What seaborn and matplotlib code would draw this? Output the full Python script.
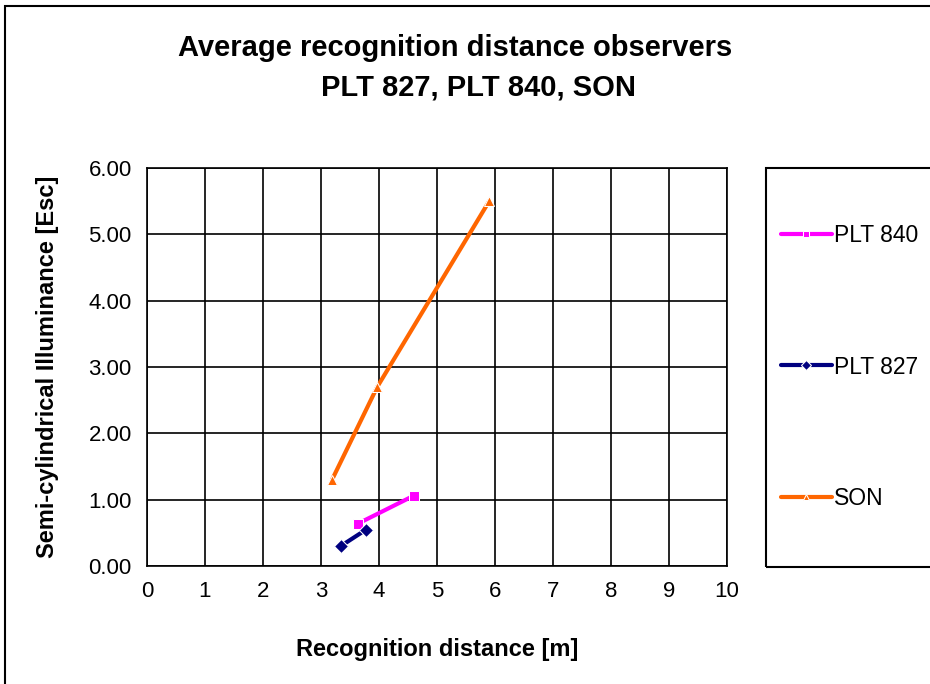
import matplotlib
matplotlib.use("Agg")
import matplotlib.pyplot as plt
import seaborn as sns
import pandas as pd
from matplotlib.patches import Rectangle

# Data
series_names = ["PLT 840", "PLT 827", "SON"]
plt840_x = [3.64, 4.60]
plt840_y = [0.64, 1.06]
plt827_x = [3.34, 3.78]
plt827_y = [0.30, 0.55]
son_x = [3.19, 3.97, 5.90]
son_y = [1.30, 2.70, 5.50]
x_ticks = list(range(0, 11))
y_ticks = [0, 1, 2, 3, 4, 5, 6]

df = pd.concat([
    pd.DataFrame({"x": plt840_x, "y": plt840_y, "series": "PLT 840"}),
    pd.DataFrame({"x": plt827_x, "y": plt827_y, "series": "PLT 827"}),
    pd.DataFrame({"x": son_x, "y": son_y, "series": "SON"}),
], ignore_index=True)

sns.set_style("white")
plt.rcParams["font.family"] = ["Liberation Sans", "DejaVu Sans"]
plt.rcParams["text.color"] = "black"
plt.rcParams["axes.labelcolor"] = "black"
plt.rcParams["xtick.color"] = "black"
plt.rcParams["ytick.color"] = "black"

fig = plt.figure(figsize=(9.3, 6.84), dpi=100)
ax = fig.add_axes([147/930, 1-566/684, (727-147)/930, (566-168)/684])

palette = {"PLT 840": "#FF00FF", "PLT 827": "#000080", "SON": "#FF6600"}
markers = {"PLT 840": "s", "PLT 827": "D", "SON": "^"}
sns.lineplot(data=df, x="x", y="y", hue="series", style="series",
             hue_order=series_names, style_order=series_names,
             palette=palette, markers=markers, dashes=False,
             linewidth=3, markersize=7, sort=False, estimator=None,
             ax=ax, legend=True)

ax.set_xlim(0, 10)
ax.set_ylim(0, 6)
ax.set_xticks(x_ticks)
ax.set_xticklabels([str(t) for t in x_ticks])
ax.set_yticks(y_ticks)
ax.set_yticklabels([f"{t:.2f}" for t in y_ticks])
ax.grid(True, color="black", linewidth=1.2)
ax.set_axisbelow(True)
for s in ax.spines.values():
    s.set_color("black")
    s.set_linewidth(1.2)
ax.tick_params(axis="both", direction="out", length=5, width=1.2, color="black",
               labelsize=16, pad=6)
ax.set_xlabel("Recognition distance [m]", fontsize=17, fontweight="bold", labelpad=26)
ax.set_ylabel("Semi-cylindrical Illuminance [Esc]", fontsize=17, fontweight="bold", labelpad=21)

# Legend
handles, labels = ax.get_legend_handles_labels()
for h in handles:
    h.set_markersize(5)
ax.legend(handles, labels, loc="center left", bbox_to_anchor=(772/930, 1-367/684),
          bbox_transform=fig.transFigure,
          frameon=False, fontsize=16.5, labelspacing=4.72, handlelength=2.2,
          handletextpad=0.1, borderaxespad=0)

# Legend box and outer chart border
fig.patches.append(Rectangle((766/930, 1-567/684), 200/930, (567-168)/684,
                             transform=fig.transFigure, fill=False,
                             edgecolor="black", linewidth=1.5, clip_on=False))
fig.patches.append(Rectangle((5/930, -0.05), 1.0, 1.05 - 6/684,
                             transform=fig.transFigure, fill=False,
                             edgecolor="black", linewidth=1.5, clip_on=False))

fig.text(455/930, 1-48/684, "Average recognition distance observers",
         ha="center", va="center", fontsize=21, fontweight="bold")
fig.text(478/930, 1-88/684, "PLT 827, PLT 840, SON",
         ha="center", va="center", fontsize=21, fontweight="bold")

fig.savefig("out.png", dpi=100)
